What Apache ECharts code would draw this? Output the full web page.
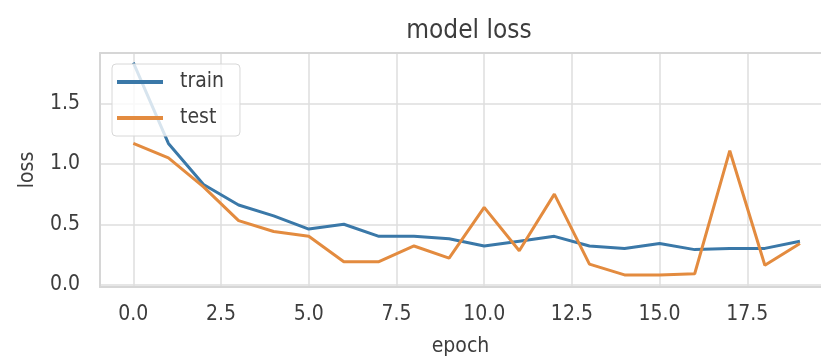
<!DOCTYPE html>
<html lang="en" style="height: 100%">
<head>
  <meta charset="utf-8">
</head>
<body style="height: 100%; margin: 0; background: #fff">
  <div id="container" style="width: 821px; height: 362px"></div>

  <script type="text/javascript" src="https://fastly.jsdelivr.net/npm/echarts@6/dist/echarts.min.js"></script>
  <script type="text/javascript">
// values
var epochs = [0, 1, 2, 3, 4, 5, 6, 7, 8, 9, 10, 11, 12, 13, 14, 15, 16, 17, 18, 19];
var trainLoss = [1.84, 1.17, 0.83, 0.66, 0.57, 0.46, 0.50, 0.40, 0.40, 0.38, 0.32, 0.36, 0.40, 0.32, 0.30, 0.34, 0.29, 0.30, 0.30, 0.36];
var testLoss = [1.17, 1.05, 0.81, 0.53, 0.44, 0.40, 0.19, 0.19, 0.32, 0.22, 0.64, 0.28, 0.75, 0.17, 0.08, 0.08, 0.09, 1.11, 0.16, 0.34];
var xTicks = [0, 2.5, 5, 7.5, 10, 12.5, 15, 17.5];
var yTicks = [0, 0.5, 1, 1.5];

var font = 'DejaVu Sans Condensed, DejaVu Sans, sans-serif';
var textColor = '#3d3d3d';
var frame = { show: true, onZero: false, lineStyle: { color: '#d6d6d6', width: 2 } };

function pairs(xs, ys) {
  return xs.map(function (x, i) { return [x, ys[i]]; });
}

var dom = document.getElementById('container');
var myChart = echarts.init(dom, null, { renderer: 'canvas' });

var option = {
  backgroundColor: '#fff',
  animation: false,
  title: {
    text: 'model loss',
    left: 464,
    top: 13,
    textAlign: 'center',
    textStyle: { fontFamily: font, fontSize: 26, fontWeight: 'normal', color: textColor }
  },
  legend: {
    left: 112,
    top: 64,
    orient: 'vertical',
    padding: [7, 16, 7, 5],
    itemWidth: 46,
    itemHeight: 4,
    itemGap: 14,
    icon: 'rect',
    backgroundColor: 'rgba(255,255,255,0.8)',
    borderColor: '#d8d8d8',
    borderWidth: 1,
    borderRadius: 4,
    textStyle: { fontFamily: font, fontSize: 21, color: textColor, lineHeight: 22, padding: [0, 0, 0, 12] },
    data: ['train', 'test']
  },
  grid: {
    left: 100,
    right: 0,
    top: 53,
    bottom: 74
  },
  xAxis: [
    {
      type: 'value',
      min: -0.95,
      max: 19.6,
      name: 'epoch',
      nameLocation: 'middle',
      nameGap: 49,
      nameTextStyle: { fontFamily: font, fontSize: 21, color: textColor },
      axisLine: frame,
      axisTick: { show: false, customValues: xTicks },
      axisLabel: {
        customValues: xTicks,
        margin: 17,
        fontFamily: font,
        fontSize: 21,
        color: textColor,
        formatter: function (v) { return v.toFixed(1); }
      },
      splitLine: { show: true, lineStyle: { color: '#dedede', width: 1.5 } }
    },
    {
      // top frame line only
      type: 'value',
      position: 'top',
      min: -0.95,
      max: 19.6,
      axisLine: frame,
      axisTick: { show: false },
      axisLabel: { show: false },
      splitLine: { show: false }
    }
  ],
  yAxis: {
    type: 'value',
    min: -0.02,
    max: 1.92,
    name: 'loss',
    nameLocation: 'middle',
    nameGap: 62,
    nameTextStyle: { fontFamily: font, fontSize: 21, color: textColor },
    axisLine: frame,
    axisTick: { show: false, customValues: yTicks },
    axisLabel: {
      customValues: yTicks,
      margin: 20,
      fontFamily: font,
      fontSize: 21,
      color: textColor,
      formatter: function (v) { return v.toFixed(1); }
    },
    splitLine: { show: true, lineStyle: { color: '#dedede', width: 1.5 } }
  },
  series: [
    {
      name: 'train',
      type: 'line',
      data: pairs(epochs, trainLoss),
      showSymbol: false,
      color: '#3a78a8',
      lineStyle: { width: 3, color: '#3a78a8' }
    },
    {
      name: 'test',
      type: 'line',
      data: pairs(epochs, testLoss),
      showSymbol: false,
      color: '#e38b3f',
      lineStyle: { width: 3, color: '#e38b3f' }
    }
  ]
};

myChart.setOption(option);
window.addEventListener('resize', myChart.resize);
  </script>
</body>
</html>
